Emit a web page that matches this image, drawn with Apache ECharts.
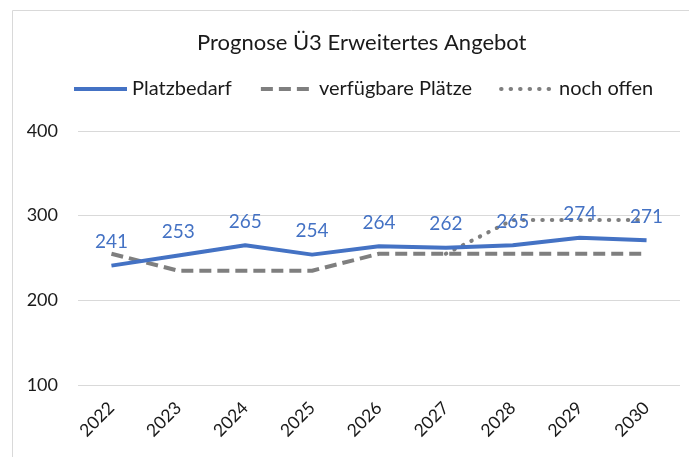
<!DOCTYPE html>
<html>
<head>
<meta charset="utf-8">
<script src="https://cdn.jsdelivr.net/npm/echarts@6/dist/echarts.min.js"></script>
<style>
  html, body { margin: 0; padding: 0; background: #fff; }
  #chart { width: 689px; height: 457px; }
</style>
</head>
<body>
<div id="chart"></div>
<script>
var years = ['2022', '2023', '2024', '2025', '2026', '2027', '2028', '2029', '2030'];
var platzbedarf = [241, 253, 265, 254, 264, 262, 265, 274, 271];
var verfuegbar = [255, 235, 235, 235, 255, 255, 255, 255, 255];
var nochOffen = [null, null, null, null, null, 255, 295, 295, 295];

var FONT = 'Lato, "Noto Sans", sans-serif';

var myChart = echarts.init(document.getElementById('chart'));

myChart.setOption({
  animation: false,
  textStyle: { fontFamily: FONT },
  title: {
    text: 'Prognose Ü3 Erweitertes Angebot',
    left: 192,
    top: 27,
    textStyle: { fontFamily: FONT, fontSize: 22, fontWeight: 'normal', color: '#1a1a1a' }
  },
  // graue Rahmenlinie wie im Excel-Diagramm
  graphic: [{
    type: 'rect',
    shape: { x: 12.5, y: 10.5, width: 720, height: 500 },
    style: { fill: 'none', stroke: '#d9d9d9', lineWidth: 1 },
    silent: true
  }],
  legend: {
    left: 67,
    top: 74,
    itemWidth: 53,
    itemHeight: 14,
    itemGap: 27,
    itemStyle: { opacity: 0, borderWidth: 0 },
    lineStyle: { width: 4 },
    textStyle: { fontFamily: FONT, fontSize: 20, color: '#1a1a1a' },
    data: ['Platzbedarf', 'verfügbare Plätze', 'noch offen']
  },
  grid: { left: 78, right: 9, top: 131, bottom: 72, containLabel: false },
  xAxis: {
    type: 'category',
    data: years,
    boundaryGap: true,
    axisLine: { show: false },
    axisTick: { show: false },
    axisLabel: { rotate: 45, margin: 20, fontSize: 17.5, color: '#1a1a1a', fontFamily: FONT }
  },
  yAxis: {
    type: 'value',
    min: 100,
    max: 400,
    interval: 100,
    axisLine: { show: false },
    axisTick: { show: false },
    axisLabel: { margin: 20, fontSize: 18, color: '#1a1a1a', fontFamily: FONT },
    splitLine: { lineStyle: { color: '#d9d9d9', width: 1 } }
  },
  series: [
    {
      name: 'verfügbare Plätze',
      type: 'line',
      data: verfuegbar,
      symbol: 'none',
      z: 2,
      lineStyle: { color: '#7f7f7f', width: 4, type: [12, 6] },
      itemStyle: { color: '#7f7f7f' }
    },
    {
      name: 'noch offen',
      type: 'line',
      data: nochOffen,
      symbol: 'none',
      z: 3,
      lineStyle: { color: '#7f7f7f', width: 4, type: [0.5, 9], cap: 'round' },
      itemStyle: { color: '#7f7f7f' }
    },
    {
      name: 'Platzbedarf',
      type: 'line',
      data: platzbedarf,
      symbol: 'circle',
      symbolSize: 0.1,
      showSymbol: true,
      z: 4,
      lineStyle: { color: '#4472c4', width: 4 },
      itemStyle: { color: '#4472c4' },
      label: {
        show: true,
        position: 'top',
        distance: 14,
        fontSize: 19,
        color: '#4472c4',
        fontFamily: FONT
      }
    }
  ]
});
</script>
</body>
</html>
